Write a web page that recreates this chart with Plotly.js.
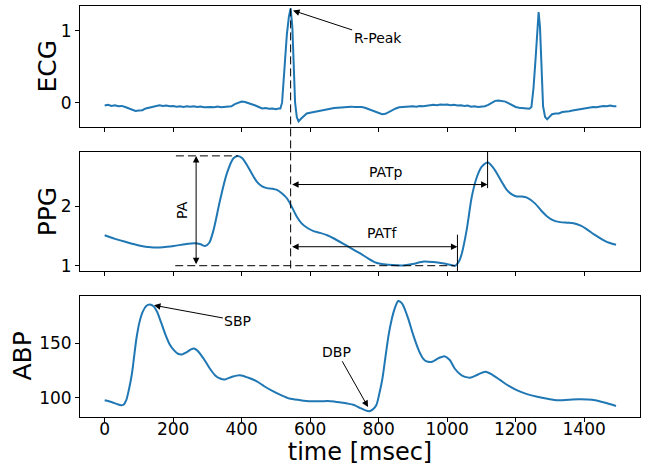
<!DOCTYPE html>
<html>
<head>
<meta charset="utf-8">
<script src="https://cdn.plot.ly/plotly-3.0.1.min.js"></script>
<style>
  html, body { margin: 0; padding: 0; background: #fff; }
  #chart { width: 648px; height: 466px; }
</style>
</head>
<body>
<div id="chart"></div>
<script>
// ---- ECG (arbitrary units) ----
const ecgTime = [0,10,20,30,40,50,60,70,80,90,100,110,120,130,140,150,160,170,180,190,200,210,220,230,240,250,260,270,280,290,300,310,320,330,340,350,360,370,380,390,400,410,420,430,440,450,460,470,480,490,500,508,513,518,522,528,532,538,543,548,552,556,561,566,574,582,590,600,610,620,630,640,650,660,670,680,690,700,710,720,730,740,750,760,770,780,790,800,810,820,830,840,850,860,870,880,890,900,910,920,930,940,950,960,970,980,990,1000,1010,1020,1030,1040,1050,1060,1070,1080,1090,1100,1110,1120,1130,1140,1150,1160,1170,1180,1190,1200,1210,1220,1230,1240,1246,1252,1258,1264,1267,1271,1276,1280,1286,1292,1298,1306,1316,1326,1336,1346,1356,1366,1376,1386,1396,1406,1416,1426,1436,1446,1456,1466,1476,1486,1494];
const ecgValue = [-0.04,-0.03,-0.045,-0.035,-0.05,-0.045,-0.06,-0.08,-0.1,-0.115,-0.11,-0.105,-0.08,-0.07,-0.05,-0.045,-0.035,-0.045,-0.04,-0.05,-0.045,-0.055,-0.05,-0.06,-0.05,-0.055,-0.05,-0.06,-0.055,-0.065,-0.06,-0.06,-0.065,-0.055,-0.065,-0.06,-0.065,-0.05,-0.02,0.0,0.015,0.01,-0.005,-0.015,-0.04,-0.06,-0.08,-0.075,-0.085,-0.08,-0.09,-0.08,-0.08,0.0,0.3,0.6,0.95,1.2,1.31,1.05,0.5,0.0,-0.2,-0.26,-0.22,-0.18,-0.15,-0.14,-0.13,-0.12,-0.11,-0.095,-0.085,-0.08,-0.075,-0.07,-0.065,-0.06,-0.06,-0.055,-0.06,-0.055,-0.06,-0.07,-0.09,-0.11,-0.13,-0.15,-0.16,-0.155,-0.13,-0.1,-0.08,-0.065,-0.06,-0.055,-0.06,-0.05,-0.055,-0.045,-0.05,-0.04,-0.035,-0.03,-0.035,-0.025,-0.03,-0.025,-0.035,-0.03,-0.04,-0.035,-0.045,-0.04,-0.055,-0.05,-0.06,-0.055,-0.05,-0.03,0.0,0.025,0.03,0.02,0.015,-0.01,-0.04,-0.06,-0.07,-0.075,-0.08,-0.085,-0.06,0.2,0.6,1.1,1.26,1.05,0.3,-0.05,-0.2,-0.23,-0.2,-0.16,-0.15,-0.15,-0.13,-0.13,-0.12,-0.11,-0.1,-0.09,-0.085,-0.075,-0.07,-0.06,-0.065,-0.05,-0.045,-0.05,-0.04,-0.05,-0.05];

// ---- PPG ----
const ppgTime = [0,30,60,100,135,170,202,235,262,280,293,305,318,337,357,376,389,402,415,430,444,460,474,490,503,518,532,546,561,575,590,610,629,650,668,696,720,745,770,793,815,841,870,900,932,960,986,1005,1023,1035,1043,1057,1072,1087,1101,1119,1132,1145,1160,1174,1190,1203,1218,1233,1257,1275,1291,1310,1330,1350,1369,1390,1408,1430,1456,1475,1493];
const ppgValue = [1.51,1.45,1.40,1.34,1.31,1.31,1.33,1.36,1.375,1.36,1.33,1.38,1.60,2.10,2.55,2.80,2.84,2.80,2.69,2.54,2.41,2.33,2.30,2.29,2.27,2.21,2.13,1.99,1.82,1.71,1.64,1.58,1.55,1.51,1.46,1.37,1.29,1.21,1.12,1.05,1.025,1.01,1.005,1.03,1.07,1.06,1.04,1.02,1.0,1.08,1.21,1.60,2.16,2.49,2.66,2.73,2.66,2.55,2.40,2.27,2.19,2.16,2.16,2.14,2.04,1.92,1.83,1.76,1.73,1.72,1.71,1.67,1.61,1.52,1.43,1.38,1.35];

// ---- ABP (mmHg) ----
const abpTime = [0,20,35,48,56,63,71,79,86,93,102,111,122,132,143,153,165,178,190,202,214,226,240,252,261,272,282,292,307,322,337,352,372,395,420,443,467,491,515,539,570,600,630,660,690,708,728,745,760,772,783,793,802,811,820,829,838,847,857,864,871,886,901,918,930,938,956,975,992,1007,1022,1037,1052,1070,1090,1112,1133,1155,1180,1203,1233,1263,1293,1324,1354,1384,1410,1432,1462,1493];
const abpValue = [97.9,96.3,94.5,93.3,94,97.9,108,121,138,155,170,179,184.5,185.8,184,179,169,157.6,149,143.8,140.5,139.9,142,144.5,145.3,143,139,134.6,127,120.9,117.8,117,119.5,120.9,118.5,115.4,110.5,106.2,102.5,99.4,98,97,97,97,95.8,94.9,93.5,90.9,88.8,87.8,89.5,93.3,104,117.8,138,157.6,172,182.2,188.9,188,185.3,173,157.6,143,136,133.7,133.1,136.5,138.3,135,127,122,119.3,118.7,121.5,124,121,116.3,111,107.1,103.5,101,99.2,97.9,98.3,98.8,98.6,97.9,95.5,92.6];

// ---- timing landmarks (msec) ----
const rPeakTime = 543;       // ECG R-peak
const ppgPeakTime = 1118;    // PPG systolic peak, second beat
const ppgFootTime = 1030;    // PPG foot, second beat
const paTime = 267;          // where the PA amplitude arrow stands
const paLineStart = 208;     // left end of the PA guide lines
const patpLevel = 2.36;      // height of the PATp arrow
const patfLevel = 1.318;     // height of the PATf arrow

const tickLabels = { ecg: [0, 1], ppg: [1, 2], abp: [100, 150], time: [0, 200, 400, 600, 800, 1000, 1200, 1400] };
const panelTitles = ['ECG', 'PPG', 'ABP'];

const blue = '#1f77b4';
const FONT = 'DejaVu Sans, sans-serif';

const xRange = [-72, 1563];
const ecgRange = [-0.338, 1.343];
const ppgRange = [0.911, 2.91];
const abpRange = [82.5, 193.5];
const ecgDom = [0.7056, 1];
const ppgDom = [0.3552, 0.6455];
const abpDom = [0, 0.2944];

// value -> paper fraction, using an axis' domain and range
function toPaper(v, dom, rng) {
  return dom[0] + (v - rng[0]) / (rng[1] - rng[0]) * (dom[1] - dom[0]);
}

const ecgMax = Math.max(...ecgValue);
const ppgFirstMax = Math.max(...ppgValue.slice(0, 25));
const ppgMin = Math.min(...ppgValue);

const traces = [
  { x: ecgTime, y: ecgValue, xaxis: 'x', yaxis: 'y', mode: 'lines', line: { color: blue, width: 2 }, hoverinfo: 'skip' },
  { x: ppgTime, y: ppgValue, xaxis: 'x2', yaxis: 'y2', mode: 'lines', line: { color: blue, width: 2, shape: 'spline', smoothing: 0.8 }, hoverinfo: 'skip' },
  { x: abpTime, y: abpValue, xaxis: 'x3', yaxis: 'y3', mode: 'lines', line: { color: blue, width: 2, shape: 'spline', smoothing: 0.8 }, hoverinfo: 'skip' }
];

function xAxis(anchor, showLabels) {
  return {
    anchor: anchor, range: xRange, domain: [0, 1],
    showline: true, mirror: true, linecolor: '#000', linewidth: 1,
    ticks: 'outside', ticklen: 4, tickwidth: 1, tickcolor: '#000',
    tickvals: tickLabels.time, showticklabels: showLabels,
    ticklabelstandoff: -7,
    tickfont: { family: FONT, size: 17, color: '#000' },
    showgrid: false, zeroline: false
  };
}
function yAxis(anchor, dom, rng, ticks) {
  return {
    anchor: anchor, domain: dom, range: rng,
    showline: true, mirror: true, linecolor: '#000', linewidth: 1,
    ticks: 'outside', ticklen: 4, tickwidth: 1, tickcolor: '#000',
    tickvals: ticks, tickfont: { family: FONT, size: 17, color: '#000' },
    showgrid: false, zeroline: false
  };
}

const dashed = { color: '#000', width: 1, dash: '8px,4px' };
const solid = { color: '#000', width: 1 };

const shapes = [
  // R-peak marker running from the ECG peak down into the PPG panel
  { type: 'line', xref: 'x', yref: 'paper', x0: rPeakTime, x1: rPeakTime,
    y0: toPaper(ecgMax, ecgDom, ecgRange), y1: toPaper(0.95, ppgDom, ppgRange), line: dashed },
  // PA guide lines
  { type: 'line', xref: 'x2', yref: 'y2', x0: paLineStart, x1: ppgTime[ppgValue.indexOf(ppgFirstMax)], y0: ppgFirstMax, y1: ppgFirstMax, line: dashed },
  { type: 'line', xref: 'x2', yref: 'y2', x0: paLineStart - 2, x1: ppgTime[ppgValue.indexOf(ppgMin)], y0: ppgMin, y1: ppgMin, line: dashed },
  // ticks marking the PPG peak and foot
  { type: 'line', xref: 'x2', yref: 'y2', x0: ppgPeakTime, x1: ppgPeakTime, y0: 2.30, y1: ppgRange[1], line: solid },
  { type: 'line', xref: 'x2', yref: 'y2', x0: ppgFootTime, x1: ppgFootTime, y0: 1.52, y1: ppgRange[0], line: solid }
];

const annFont = { family: FONT, size: 14, color: '#000' };
const titleFont = { family: FONT, size: 25, color: '#000' };
function twoWay(xref, yref, x, y, ax, ay) {
  return { xref: xref, yref: yref, axref: xref, ayref: yref, x: x, y: y, ax: ax, ay: ay,
    text: '', showarrow: true, arrowside: 'end+start', arrowhead: 2, startarrowhead: 2,
    arrowsize: 1.3, startarrowsize: 1.3, arrowwidth: 1, arrowcolor: '#000', standoff: 0, startstandoff: 0 };
}
// vertical panel titles beside each y axis
function panelTitle(text, dom, shift) {
  return { xref: 'paper', yref: 'paper', x: 0, y: (dom[0] + dom[1]) / 2, xanchor: 'center', yanchor: 'middle',
    xshift: shift, text: text, textangle: -90, showarrow: false, font: titleFont };
}

const annotations = [
  panelTitle(panelTitles[0], ecgDom, -33),
  panelTitle(panelTitles[1], ppgDom, -33),
  panelTitle(panelTitles[2], abpDom, -57),
  { xref: 'x', yref: 'y', axref: 'x', ayref: 'y', x: 550, y: 1.28, ax: 797, ay: 0.894,
    text: 'R-Peak', font: annFont, showarrow: true, arrowhead: 2, arrowsize: 1.3, arrowwidth: 1, arrowcolor: '#000' },
  twoWay('x2', 'y2', paTime, ppgFirstMax, paTime, ppgMin),
  twoWay('x2', 'y2', ppgPeakTime, patpLevel, rPeakTime, patpLevel),
  twoWay('x2', 'y2', ppgFootTime, patfLevel, rPeakTime, patfLevel),
  { xref: 'x2', yref: 'y2', x: 225, y: 1.93, text: 'PA', textangle: -90, showarrow: false, font: annFont },
  { xref: 'x2', yref: 'y2', x: 822, y: 2.57, text: 'PATp', showarrow: false, font: annFont },
  { xref: 'x2', yref: 'y2', x: 810, y: 1.55, text: 'PATf', showarrow: false, font: annFont },
  { xref: 'x3', yref: 'y3', axref: 'x3', ayref: 'y3', x: 144, y: 185, ax: 389, ay: 170.8,
    text: 'SBP', font: annFont, showarrow: true, arrowhead: 2, arrowsize: 1.3, arrowwidth: 1, arrowcolor: '#000' },
  { xref: 'x3', yref: 'y3', axref: 'x3', ayref: 'y3', x: 769, y: 91.7, ax: 678, ay: 142.3,
    text: 'DBP', font: annFont, showarrow: true, arrowhead: 2, arrowsize: 1.3, arrowwidth: 1, arrowcolor: '#000' }
];

const layout = {
  width: 648, height: 466,
  margin: { l: 80, r: 8, t: 6, b: 49 },
  paper_bgcolor: '#fff', plot_bgcolor: '#fff',
  showlegend: false,
  font: { family: FONT, color: '#000' },
  xaxis: xAxis('y', false),
  xaxis2: xAxis('y2', false),
  xaxis3: Object.assign(xAxis('y3', true), { title: { text: 'time [msec]', font: { family: FONT, size: 24, color: '#000' }, standoff: 14 } }),
  yaxis: yAxis('x', ecgDom, ecgRange, tickLabels.ecg),
  yaxis2: yAxis('x2', ppgDom, ppgRange, tickLabels.ppg),
  yaxis3: yAxis('x3', abpDom, abpRange, tickLabels.abp),
  shapes: shapes,
  annotations: annotations
};

Plotly.newPlot('chart', traces, layout, { staticPlot: true, displayModeBar: false });
</script>
</body>
</html>
